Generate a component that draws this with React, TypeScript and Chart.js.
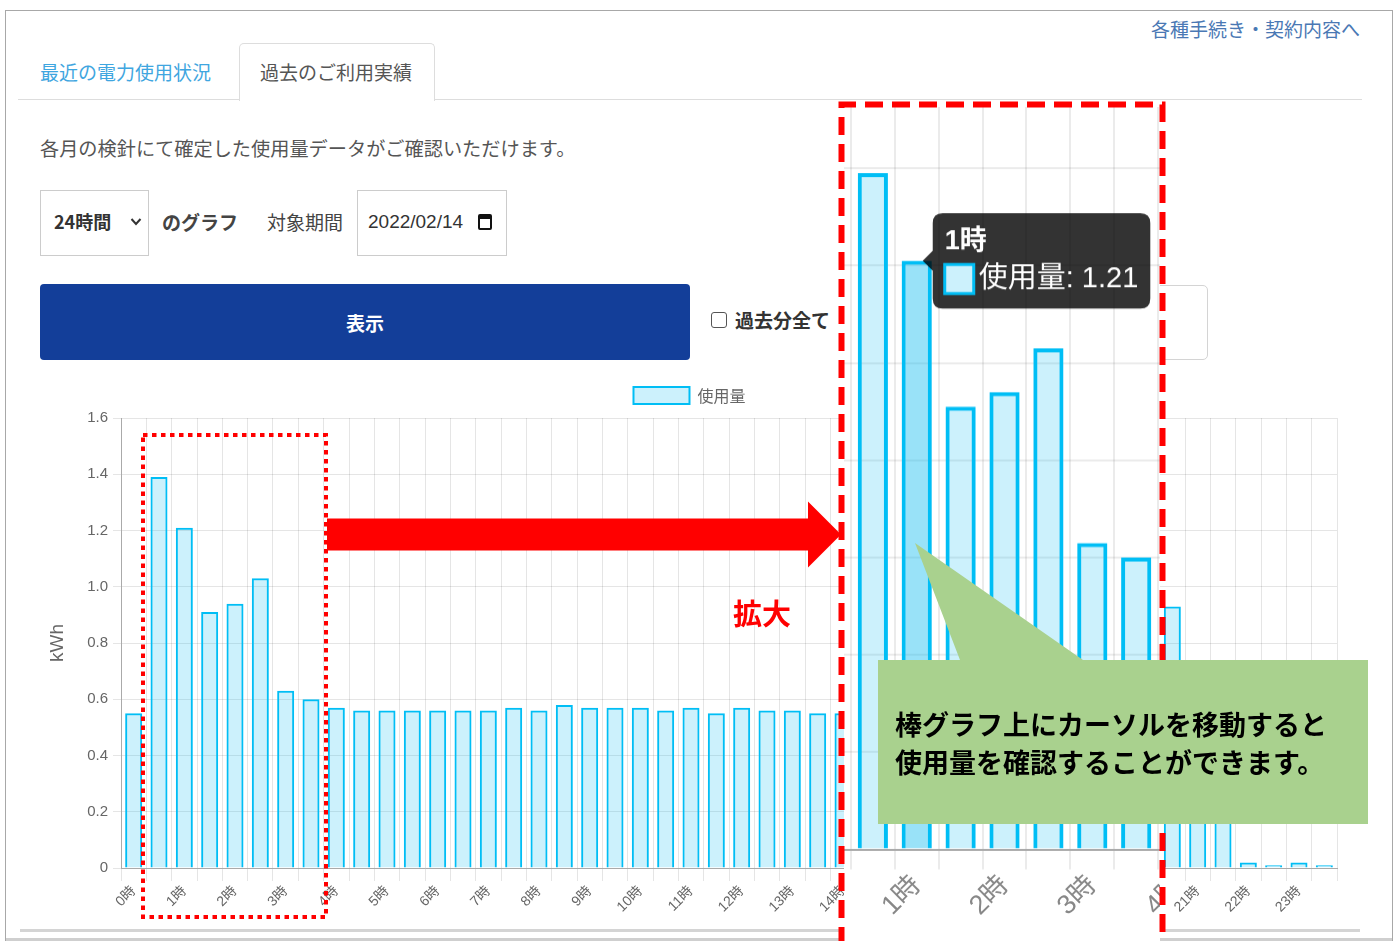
import React, { useEffect, useRef } from "react";
import { Chart, registerables } from "chart.js";

Chart.register(...registerables);

// ---------- data ----------
const hourLabels: string[] = [
  "0時", "", "1時", "", "2時", "", "3時", "", "4時", "", "5時", "",
  "6時", "", "7時", "", "8時", "", "9時", "", "10時", "", "11時", "",
  "12時", "", "13時", "", "14時", "", "15時", "", "16時", "", "17時", "",
  "18時", "", "19時", "", "20時", "", "21時", "", "22時", "", "23時", "",
];

const usageValues: number[] = [
  0.55, 1.39, 1.21, 0.91, 0.94, 1.03, 0.63, 0.6, 0.57, 0.56, 0.56, 0.56,
  0.56, 0.56, 0.56, 0.57, 0.56, 0.58, 0.57, 0.57, 0.57, 0.56, 0.57, 0.55,
  0.57, 0.56, 0.56, 0.55, 0.55, 0.55, 0.56, 0.55, 0.56, 0.57, 0.58, 0.62,
  0.71, 0.85, 0.96, 1.02, 0.98, 0.93, 0.62, 0.58, 0.02, 0.01, 0.02, 0.01,
];

const seriesLabel = "使用量";
const axisTitle = "kWh";
const yMin = 0;
const yMax = 1.6;
const yStep = 0.2;
const hoveredIndex = 2;
const insetFirstIndex = 0;
const insetLastIndex = 8;

// ---------- styles ----------
const FILL = "rgba(0,183,238,0.2)";
const FILL_HOVER = "rgba(0,183,238,0.4)";
const LINE = "rgb(0,190,245)";
const GRID = "rgba(0,0,0,0.1)";
const FONT_NUM = "'Liberation Sans', 'Noto Sans CJK JP', sans-serif";
const FONT_JP = "'Noto Sans CJK JP', 'Noto Sans', sans-serif";

// inset geometry
const INSET_CAT = 44.0;
const INSET_UNIT = 486;
const INSET_BASE_Y = 849;
const INSET_FIRST_BOUNDARY_X = 851; // left edge of category 1
const INSET_YW = 40;
const INSET_XH = 100;
const INSET_BOX = { left: 844, top: 107, right: 1160, bottom: 941 };

const legendGapPlugin = {
  id: "legendGap",
  beforeInit(chart: any) {
    const legend = chart.legend;
    if (!legend) return;
    const originalFit = legend.fit;
    legend.fit = function fit() {
      originalFit.bind(legend)();
      this.height += 4;
    };
  },
};

function MainChart() {
  const ref = useRef<HTMLCanvasElement | null>(null);
  useEffect(() => {
    if (!ref.current) return;
    Chart.defaults.font.family = FONT_NUM;
    const chart = new Chart(ref.current, {
      type: "bar",
      data: {
        labels: hourLabels,
        datasets: [
          {
            label: seriesLabel,
            data: usageValues,
            backgroundColor: FILL,
            hoverBackgroundColor: FILL_HOVER,
            borderColor: LINE,
            hoverBorderColor: LINE,
            borderWidth: 2,
            barPercentage: 0.84,
            categoryPercentage: 0.8,
          },
        ],
      },
      plugins: [legendGapPlugin],
      options: {
        animation: false,
        responsive: true,
        maintainAspectRatio: false,
        events: [],
        layout: { padding: { left: 22, right: 23, top: 0, bottom: 0 } },
        plugins: {
          legend: {
            display: true,
            position: "top",
            labels: {
              boxWidth: 56,
              boxHeight: 17,
              padding: 19,
              color: "#666",
              font: { size: 16, family: FONT_JP },
            },
          },
          tooltip: { enabled: false },
        },
        scales: {
          x: {
            grid: { color: GRID, tickLength: 13 },
            border: { color: "#aaa", width: 1 },
            ticks: {
              autoSkip: false,
              minRotation: 45,
              maxRotation: 45,
              color: "#666",
              font: { size: 14 },
              padding: 2,
            },
            afterFit: (s: any) => {
              s.height = 65;
            },
          },
          y: {
            min: yMin,
            max: yMax,
            ticks: {
              stepSize: yStep,
              color: "#666",
              font: { size: 15 },
              padding: 5,
              callback: (v: any) => (Number(v) === 0 ? "0" : Number(v).toFixed(1)),
            },
            title: {
              display: true,
              text: axisTitle,
              color: "#666",
              font: { size: 19 },
            },
            grid: { color: GRID },
            border: { color: "#aaa", width: 1 },
            afterFit: (s: any) => {
              s.width = 79;
            },
          },
        },
      },
    } as any);
    return () => chart.destroy();
  }, []);
  return (
    <div style={{ position: "absolute", left: 20, top: 368, width: 1340, height: 565 }}>
      <canvas ref={ref} />
    </div>
  );
}

function InsetChart() {
  const ref = useRef<HTMLCanvasElement | null>(null);
  useEffect(() => {
    if (!ref.current) return;
    Chart.defaults.font.family = FONT_NUM;
    const chart = new Chart(ref.current, {
      type: "bar",
      data: {
        labels: hourLabels,
        datasets: [
          {
            label: seriesLabel,
            data: usageValues,
            backgroundColor: FILL,
            hoverBackgroundColor: FILL_HOVER,
            borderColor: LINE,
            hoverBorderColor: LINE,
            borderWidth: 4,
            hoverBorderWidth: 4,
            barPercentage: 0.86,
            categoryPercentage: 0.8,
          },
        ],
      },
      options: {
        animation: false,
        responsive: true,
        maintainAspectRatio: false,
        events: [],
        layout: { padding: 0 },
        plugins: {
          legend: { display: false },
          tooltip: {
            enabled: true,
            xAlign: "left",
            yAlign: "center",
            backgroundColor: "rgba(0,0,0,0.8)",
            titleColor: "#fff",
            bodyColor: "#fff",
            titleFont: { size: 27, weight: "bold", family: FONT_NUM },
            bodyFont: { size: 29, family: FONT_NUM },
            padding: 12,
            caretSize: 10,
            caretPadding: 6,
            cornerRadius: 10,
            boxWidth: 29,
            boxHeight: 29,
            boxPadding: 3,
            titleMarginBottom: 4,
            displayColors: true,
            callbacks: {
              labelColor: () => ({
                borderColor: LINE,
                backgroundColor: FILL,
                borderWidth: 3,
              }),
            },
          },
        },
        scales: {
          x: {
            min: insetFirstIndex,
            max: insetLastIndex,
            grid: { color: "rgba(0,0,0,0.08)", lineWidth: 2, tickLength: 20 },
            border: { color: "#aaa", width: 2 },
            ticks: {
              autoSkip: false,
              minRotation: 45,
              maxRotation: 45,
              color: "#888",
              font: { size: 27 },
              padding: 0,
            },
            afterFit: (s: any) => {
              s.height = INSET_XH;
            },
          },
          y: {
            min: yMin,
            max: yMax,
            ticks: { display: false, stepSize: yStep },
            grid: { color: "rgba(0,0,0,0.08)", lineWidth: 2, drawTicks: false },
            border: { display: false },
            afterFit: (s: any) => {
              s.width = INSET_YW;
            },
          },
        },
      },
    } as any);
    const active = [{ datasetIndex: 0, index: hoveredIndex }];
    chart.setActiveElements(active);
    chart.tooltip?.setActiveElements(active, { x: 0, y: 0 });
    chart.update();
    return () => chart.destroy();
  }, []);

  const nCats = insetLastIndex - insetFirstIndex + 1;
  const areaLeft = INSET_FIRST_BOUNDARY_X - INSET_CAT;
  const areaTop = INSET_BASE_Y - (yMax - yMin) * INSET_UNIT;
  const canvasLeft = areaLeft - INSET_YW;
  const w = INSET_YW + nCats * INSET_CAT;
  const h = (yMax - yMin) * INSET_UNIT + INSET_XH;
  return (
    <div
      style={{
        position: "absolute",
        left: INSET_BOX.left,
        top: INSET_BOX.top,
        width: INSET_BOX.right - INSET_BOX.left,
        height: INSET_BOX.bottom - INSET_BOX.top,
        background: "#fff",
        overflow: "hidden",
      }}
    >
      <div
        style={{
          position: "absolute",
          left: canvasLeft - INSET_BOX.left,
          top: areaTop - INSET_BOX.top,
          width: w,
          height: h,
        }}
      >
        <canvas ref={ref} />
      </div>
    </div>
  );
}

function Txt(props: {
  x: number;
  y: number;
  size: number;
  color?: string;
  weight?: number | string;
  family?: string;
  children: React.ReactNode;
}) {
  const { x, y, size, color = "#444", weight = 400, family = FONT_JP, children } = props;
  return (
    <div
      style={{
        position: "absolute",
        left: x,
        top: y - size * 0.7,
        height: size * 1.4,
        lineHeight: `${size * 1.4}px`,
        fontSize: size,
        color,
        fontWeight: weight as any,
        fontFamily: family,
        whiteSpace: "nowrap",
      }}
    >
      {children}
    </div>
  );
}

export default function App() {
  return (
    <div
      style={{
        position: "fixed",
        left: 0,
        top: 0,
        width: 1400,
        height: 941,
        overflow: "hidden",
        background: "#fff",
        fontFamily: FONT_JP,
      }}
    >
      {/* outer frame */}
      <div
        style={{
          position: "absolute",
          left: 5,
          top: 10,
          width: 1388,
          height: 1000,
          border: "1px solid #a8a8a8",
          boxSizing: "border-box",
        }}
      />
      {/* tabs */}
      <div style={{ position: "absolute", left: 18, top: 99, width: 1344, height: 1, background: "#ddd" }} />
      <div
        style={{
          position: "absolute",
          left: 239,
          top: 43,
          width: 196,
          height: 58,
          border: "1px solid #ddd",
          borderBottom: "none",
          borderRadius: "5px 5px 0 0",
          background: "#fff",
          boxSizing: "border-box",
        }}
      />
      <Txt x={40} y={72} size={19} color="#3fa6e0">最近の電力使用状況</Txt>
      <Txt x={260} y={72} size={19} color="#555">過去のご利用実績</Txt>
      <Txt x={1151} y={29} size={19} color="#4a78b4">各種手続き・契約内容へ</Txt>

      <Txt x={40} y={148} size={19.2} color="#555">各月の検針にて確定した使用量データがご確認いただけます。</Txt>

      {/* select */}
      <div
        style={{
          position: "absolute",
          left: 40,
          top: 190,
          width: 109,
          height: 66,
          border: "1px solid #ccc",
          boxSizing: "border-box",
        }}
      />
      <Txt x={54} y={222} size={18} color="#333" weight={700}>24時間</Txt>
      <svg style={{ position: "absolute", left: 130, top: 217, width: 12, height: 10 }}>
        <polyline points="1.5,2 6,7 10.5,2" fill="none" stroke="#333" strokeWidth={2} />
      </svg>
      <Txt x={162} y={222} size={19} color="#444" weight={700}>のグラフ</Txt>
      <Txt x={267} y={222} size={19} color="#444">対象期間</Txt>
      <div
        style={{
          position: "absolute",
          left: 357,
          top: 190,
          width: 150,
          height: 66,
          border: "1px solid #ccc",
          boxSizing: "border-box",
        }}
      />
      <Txt x={368} y={222} size={19} color="#333" family={FONT_NUM}>2022/02/14</Txt>
      <div
        style={{
          position: "absolute",
          left: 478,
          top: 214,
          width: 14,
          height: 16,
          border: "2px solid #111",
          borderTopWidth: 5,
          borderRadius: 2,
          boxSizing: "border-box",
        }}
      />

      {/* button */}
      <div
        style={{
          position: "absolute",
          left: 40,
          top: 284,
          width: 650,
          height: 76,
          background: "#133e99",
          borderRadius: 4,
          color: "#fff",
          fontWeight: 700,
          fontSize: 19,
          display: "flex",
          alignItems: "center",
          justifyContent: "center",
          fontFamily: FONT_JP,
        }}
      >
        表示
      </div>
      {/* checkbox */}
      <div
        style={{
          position: "absolute",
          left: 711,
          top: 312,
          width: 16,
          height: 16,
          border: "1.5px solid #555",
          borderRadius: 3,
          boxSizing: "border-box",
          background: "#fff",
        }}
      />
      <Txt x={735} y={320} size={19} color="#333" weight={700}>過去分全て</Txt>
      {/* partially hidden box */}
      <div
        style={{
          position: "absolute",
          left: 1000,
          top: 285,
          width: 208,
          height: 75,
          border: "1px solid #d4d4d4",
          borderRadius: 5,
          boxSizing: "border-box",
        }}
      />

      <MainChart />

      {/* bottom lines */}
      <div style={{ position: "absolute", left: 20, top: 929, width: 1340, height: 3, background: "#d4d4d4" }} />
      <div style={{ position: "absolute", left: 6, top: 938, width: 1386, height: 3, background: "#cfcfcf" }} />

      <InsetChart />

      {/* annotations */}
      <svg
        width={1400}
        height={941}
        style={{ position: "absolute", left: 0, top: 0, pointerEvents: "none" }}
      >
        <rect
          x={143}
          y={435}
          width={183}
          height={482}
          fill="none"
          stroke="#ff0000"
          strokeWidth={4}
          strokeDasharray="4.5 4.5"
        />
        <polygon
          points="327,518.5 808,518.5 808,501.5 841,534.5 808,567.5 808,550.5 327,550.5"
          fill="#ff0000"
        />
        <path
          d="M841.5,945 V104.5 H1162.5 V945"
          fill="none"
          stroke="#ff0000"
          strokeWidth={6}
          strokeDasharray="18 9"
        />
        <polygon
          points="878,660 960,660 915,543 1083,660 1368,660 1368,824 878,824"
          fill="#a9d18e"
        />
      </svg>
      <Txt x={733} y={612} size={29} color="#ff0000" weight={700}>拡大</Txt>
      <Txt x={895} y={724} size={27} color="#000" weight={700}>棒グラフ上にカーソルを移動すると</Txt>
      <Txt x={895} y={762} size={27} color="#000" weight={700}>使用量を確認することができます。</Txt>
    </div>
  );
}
